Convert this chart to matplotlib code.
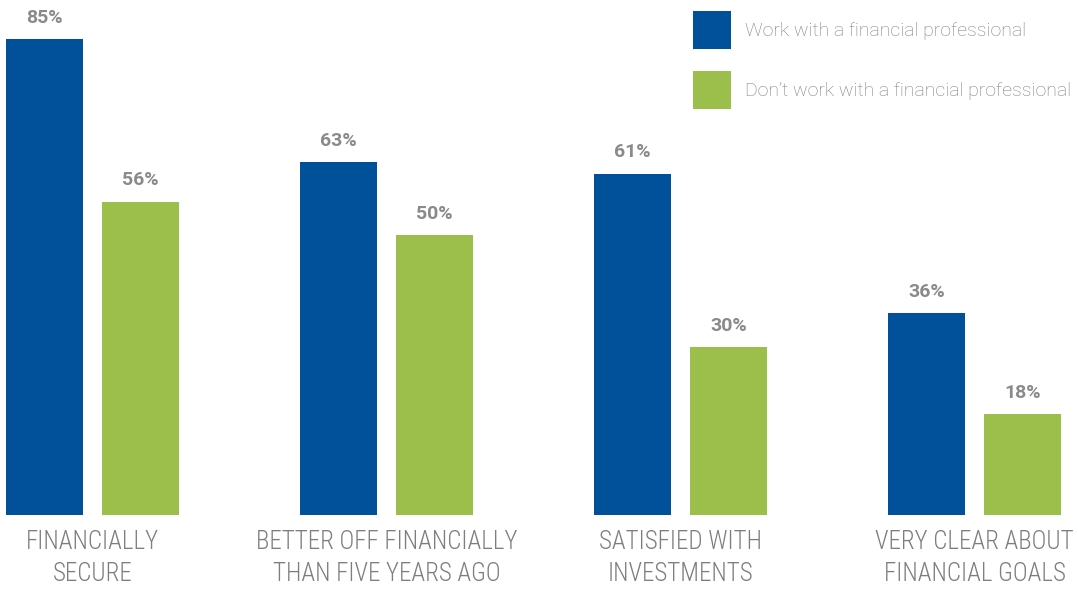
import numpy as np
import matplotlib.pyplot as plt

categories = ['FINANCIALLY\nSECURE',
              'BETTER OFF FINANCIALLY\nTHAN FIVE YEARS AGO',
              'SATISFIED WITH\nINVESTMENTS',
              'VERY CLEAR ABOUT\nFINANCIAL GOALS']
with_pro = [85, 63, 61, 36]
without_pro = [56, 50, 30, 18]
series_names = ['Work with a financial professional',
                'Don\u2019t work with a financial professional']

blue = '#00519a'
green = '#9bbf4a'
grey = '#8a8a8c'
grey_light_text = '#7e7e80'

cond = ['Roboto Condensed', 'Roboto', 'DejaVu Sans']
light = ['Roboto', 'Open Sans', 'DejaVu Sans']

fig = plt.figure(figsize=(10.78, 5.89), dpi=100)
ax = fig.add_axes([0, 0.1256, 1, 0.8744])

x = np.arange(len(categories))
w = 0.262
off = 0.163
b1 = ax.bar(x - off, with_pro, w, color=blue, label=series_names[0])
b2 = ax.bar(x + off, without_pro, w, color=green, label=series_names[1])

# value labels above each bar
for bars, vals in ((b1, with_pro), (b2, without_pro)):
    for r, v in zip(bars, vals):
        ax.annotate(f'{v}%', (r.get_x() + r.get_width() / 2, v),
                    xytext=(0, 9), textcoords='offset points',
                    ha='center', va='bottom', fontsize=14, fontweight='bold',
                    color=grey, family=light)

# category names under each group
for i, c in enumerate(categories):
    ax.text(x[i], -2.6, c, ha='center', va='top', fontsize=18,
            fontweight='light', color=grey_light_text, family=cond,
            linespacing=1.45)

ax.set_xlim(-0.315, 3.352)
ax.set_ylim(0, 92)
ax.axis('off')

leg = ax.legend(loc='upper left', bbox_to_anchor=(0.6356, 0.994), frameon=False,
                fontsize=14, handlelength=1.955, handleheight=2.63,
                labelspacing=1.13, handletextpad=0.72, borderaxespad=0,
                borderpad=0.4)
for t in leg.get_texts():
    t.set_color(grey_light_text)
    t.set_family(light)
    t.set_fontweight('light')

fig.savefig('out.png', dpi=100)
